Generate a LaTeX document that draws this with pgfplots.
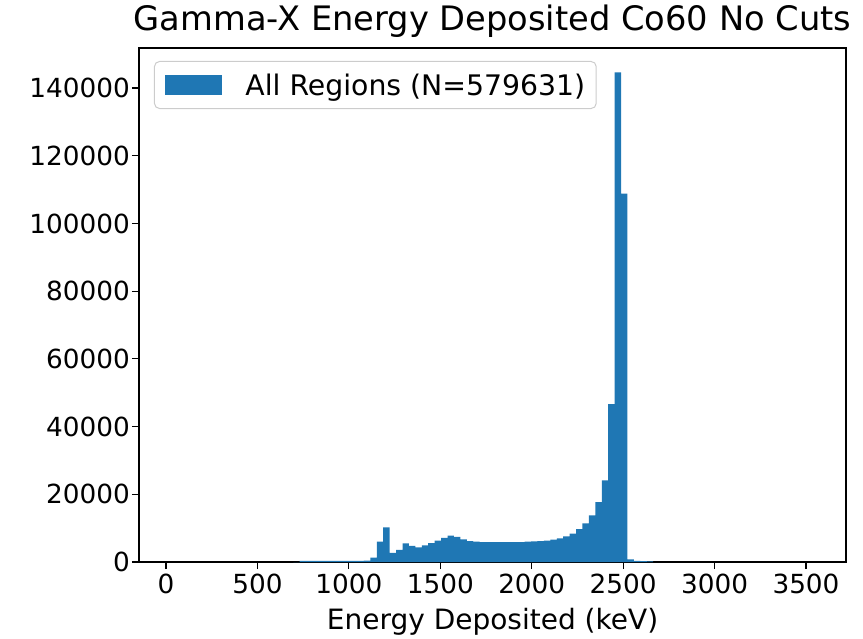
\documentclass[border=0pt]{standalone}
\usepackage{fontspec}
\setmainfont{DejaVu Sans}
\usepackage{pgfplots}
\pgfplotsset{compat=1.18}
\definecolor{c0}{HTML}{1F77B4}
\begin{document}
\begin{tikzpicture}
\useasboundingbox (0,0) rectangle (863pt,638pt);
\begin{axis}[
  at={(139pt,76pt)}, anchor=south west,
  scale only axis, width=707pt, height=514pt,
  xmin=-147.75, xmax=3718.75, ymin=0, ymax=151830,
  xtick={0,500,1000,1500,2000,2500,3000,3500},
  xticklabels={0,500,1000,1500,2000,2500,3000,3500},
  ytick={0,20000,40000,60000,80000,100000,120000,140000},
  yticklabels={0,20000,40000,60000,80000,100000,120000,140000},
  scaled y ticks=false, scaled x ticks=false,
  tick align=outside, major tick length=7pt,
  xtick pos=left, ytick pos=left,
  tick style={black, line width=1.1pt},
  axis line style={black, line width=1.1pt},
  tick label style={font=\fontsize{26.3}{31}\selectfont},
  xticklabel style={anchor=north, inner sep=0pt, yshift=-5pt},
  yticklabel style={anchor=east, inner sep=0pt, xshift=-2pt},
  title={Gamma-X Energy Deposited Co60 No Cuts},
  title style={font=\fontsize{33.7}{40}\selectfont, at={(0.5,1)}, anchor=base, yshift=11pt, inner sep=0pt},
  xlabel={Energy Deposited (keV)},
  xlabel style={font=\fontsize{28}{33}\selectfont, at={(0.5,0)}, anchor=base, yshift=-67pt, inner sep=0pt},
  legend style={at={(0.0212,0.9747)}, anchor=north west, draw=black!20, line width=1pt,
    rounded corners=5pt, fill=white, font=\fontsize{28.3}{33}\selectfont,
    inner xsep=11pt, inner ysep=12pt,
    nodes={inner sep=0pt}},
  legend cell align=left,
  legend image code/.code={\fill[#1,sharp corners] (0pt,-9.7pt) rectangle (57pt,9.7pt); \path (80pt,0pt);},
]
\addplot[ybar interval, fill=c0, draw=none] coordinates {
(695.85,0)
(731.0,300) (766.15,300) (801.3,300) (836.45,300) (871.6,300)
(906.75,300) (941.9,300) (977.05,300) (1012.2,300) (1047.35,300)
(1082.5,400)
(1117.65,1300) (1152.8,6000) (1187.95,10200)
(1223.1,2700) (1258.25,3600) (1293.4,5500) (1328.55,4800) (1363.7,4300)
(1398.85,4900) (1434.0,5600) (1469.15,6300) (1504.3,7100) (1539.45,7800)
(1574.6,7400) (1609.75,6700) (1644.9,6200) (1680.05,6000)
(1715.2,5900) (1750.35,5900) (1785.5,5900) (1820.65,5900) (1855.8,5900)
(1890.95,5900) (1926.1,5900)
(1961.25,6000) (1996.4,6100) (2031.55,6200) (2066.7,6300)
(2101.85,6600) (2137.0,7000) (2172.15,7600) (2207.3,8400) (2242.45,9700)
(2277.6,11400) (2312.75,13800) (2347.9,17700) (2383.05,24100)
(2418.2,46600) (2453.35,144600) (2488.5,108800)
(2523.65,800) (2558.8,350) (2593.95,250) (2629.1,200)
(2664.25,0)
};
\addlegendentry{All Regions (N=579631)}
\end{axis}
\end{tikzpicture}
\end{document}
